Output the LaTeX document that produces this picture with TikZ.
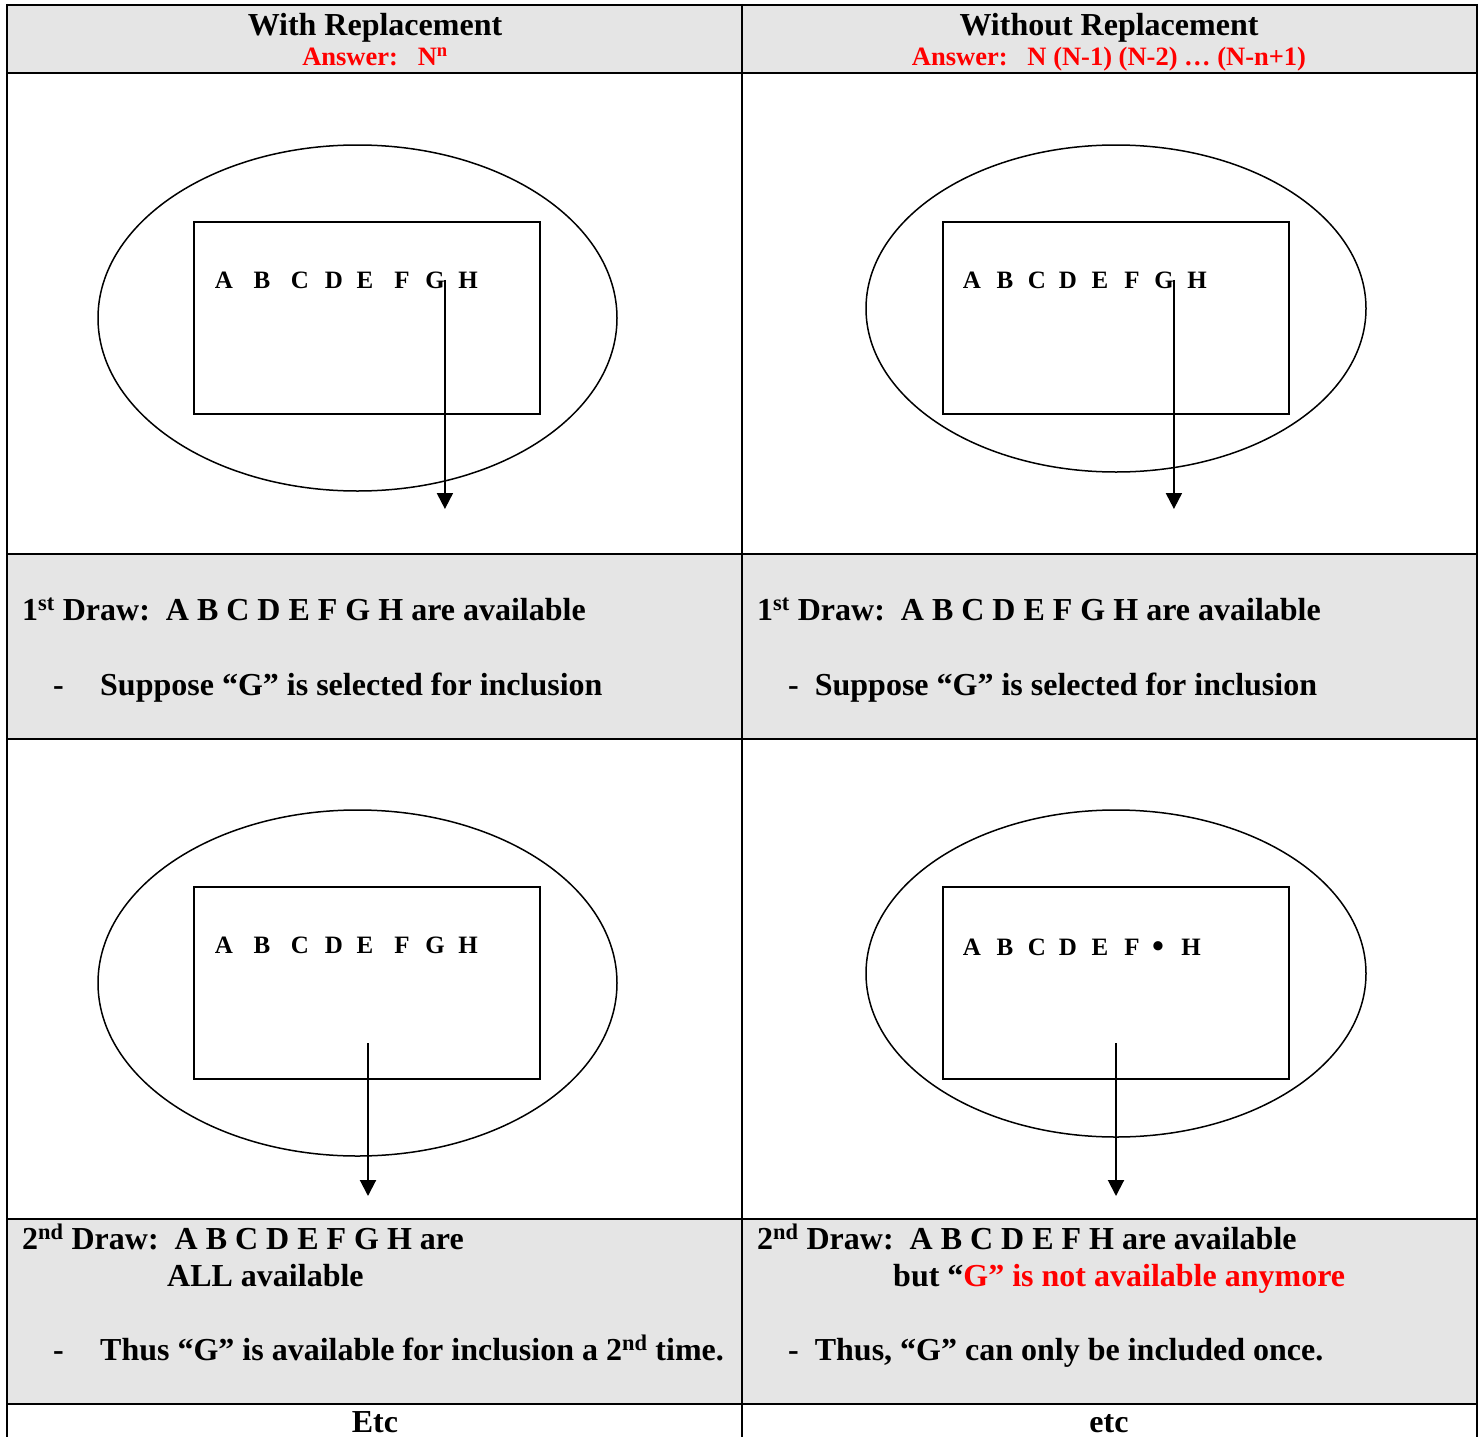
\documentclass[tikz,border=0pt]{standalone}
\usepackage{fontspec}
\setmainfont{Liberation Serif}
\usetikzlibrary{arrows.meta}
\definecolor{cellgray}{HTML}{E5E5E5}
\definecolor{ansred}{HTML}{FF0000}

\begin{document}
\begin{tikzpicture}[x=1pt,y=-1pt,
    grid/.style={line width=2pt},
    outline/.style={line width=1.5pt},
    pick/.style={line width=2pt,-{Triangle[length=16pt,width=16pt]}},
    head/.style={font=\fontsize{32}{38}\selectfont\bfseries,anchor=base,inner sep=0pt},
    ans/.style={font=\fontsize{26.5}{31}\selectfont\bfseries,text=ansred,anchor=base,inner sep=0pt},
    body/.style={font=\fontsize{32}{38}\selectfont\bfseries,anchor=base west,inner sep=0pt},
    letter/.style={font=\fontsize{25}{30}\selectfont\bfseries,anchor=base,inner sep=0pt}]
    \useasboundingbox (0,0) rectangle (1481,1437);

    % shaded rows
    \foreach \top/\bot in {5/73,554/739,1219/1404}{
            \fill[cellgray] (7,\top) rectangle (1477,\bot);
        }
    % table rules
    \foreach \y in {5,73,554,739,1219,1404}{
            \draw[grid] (6,\y) -- (1478,\y);
        }
    \foreach \x in {7,742,1477}{
            \draw[grid] (\x,4) -- (\x,1440);
        }

    % headers
    \node[head] (lhead) at (375,36) {With Replacement};
    \node[ans] (lans) at (375,66) {Answer:\ \ \ N\textsuperscript{n}};
    \node[head] (rhead) at (1109,36) {Without Replacement};
    \node[ans] (rans) at (1109,66) {Answer:\ \ \ N (N-1) (N-2) … (N-n+1)};

    % urns
    \draw[outline] (357.5,318) ellipse [x radius=259.5, y radius=173];
    \draw[outline] (1116,308.5) ellipse [x radius=250, y radius=163.5];
    \draw[outline] (357.5,983) ellipse [x radius=259.5, y radius=173];
    \draw[outline] (1116,973.5) ellipse [x radius=250, y radius=163.5];
    \draw[outline] (194,222) rectangle (540,414);
    \draw[outline] (943,222) rectangle (1289,414);
    \draw[outline] (194,887) rectangle (540,1079);
    \draw[outline] (943,887) rectangle (1289,1079);

    % letters
    \foreach \l/\x in {A/224,B/262,C/300,D/334,E/365,F/402,G/435,H/468}{
            \node[letter] (tl\l) at (\x,288) {\l};
            \node[letter] (bl\l) at (\x,953) {\l};
        }
    \foreach \l/\x in {A/972,B/1005,C/1037,D/1068,E/1100,F/1132,G/1164,H/1197}{
            \node[letter] (tr\l) at (\x,288) {\l};
        }
    \foreach \l/\x in {A/972,B/1005,C/1037,D/1068,E/1100,F/1132,H/1191}{
            \node[letter] (br\l) at (\x,955) {\l};
        }
    \node[letter,font=\fontsize{34}{40}\selectfont\bfseries] (brG) at (1158,957) {•};

    % draws
    \coordinate (tlout) at (444,509);
    \coordinate (trout) at (1174,509);
    \coordinate (blin) at (368,1043);
    \coordinate (blout) at (368,1196);
    \coordinate (brin) at (1116,1043);
    \coordinate (brout) at (1116,1196);
    \draw[pick] (tlG.east) -- (tlG.east |- tlout);
    \draw[pick] (trG.east) -- (trG.east |- trout);
    \draw[pick] (blin) -- (blout);
    \draw[pick] (brin) -- (brout);

    % first draw
    \node[body] (lone) at (22,620) {1\textsuperscript{st} Draw:\ \ A B C D E F G H are available};
    \node[body] (ldash) at (53,695) {-};
    \node[body] (lsel) at (100,695) {Suppose “G” is selected for inclusion};
    \node[body] (rone) at (757,620) {1\textsuperscript{st} Draw:\ \ A B C D E F G H are available};
    \node[body] (rsel) at (788,695) {-\ \ Suppose “G” is selected for inclusion};

    % second draw
    \node[body] (ltwo) at (22,1249) {2\textsuperscript{nd} Draw:\ \ A B C D E F G H are};
    \node[body] (lall) at (167,1286) {ALL available};
    \node[body] (ldash2) at (53,1360) {-};
    \node[body] (lthus) at (100,1360) {Thus “G” is available for inclusion a 2\textsuperscript{nd} time.};
    \node[body] (rtwo) at (757,1249) {2\textsuperscript{nd} Draw:\ \ A B C D E F H are available};
    \node[body] (rbut) at (893,1286) {but “\textcolor{ansred}{G” is not available anymore}};
    \node[body] (rthus) at (788,1360) {-\ \ Thus, “G” can only be included once.};

    % last row
    \node[head] (letc) at (375,1432) {Etc};
    \node[head] (retc) at (1109,1432) {etc};
\end{tikzpicture}
\end{document}
